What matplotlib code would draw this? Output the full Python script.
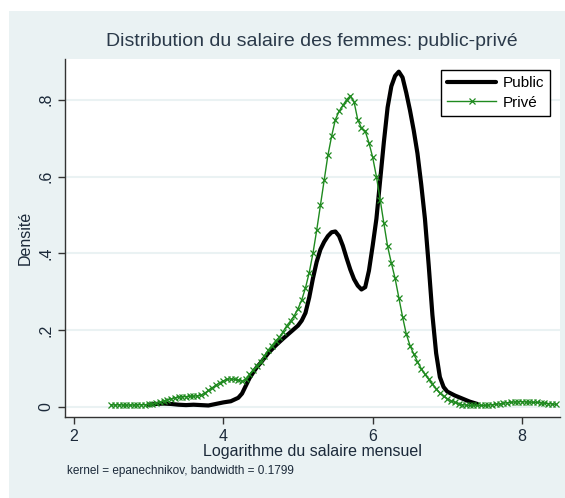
import matplotlib
matplotlib.use("Agg")
import matplotlib.pyplot as plt
import numpy as np
from matplotlib.patches import Rectangle

plt.rcParams['font.family'] = ['Liberation Sans', 'DejaVu Sans']

# Public (black) density
public_x = [3.0, 3.1, 3.2, 3.3, 3.4, 3.5, 3.6, 3.7, 3.8, 3.9, 4.0, 4.1, 4.2, 4.25,
            4.3, 4.35, 4.4, 4.45, 4.5, 4.6, 4.7, 4.8, 4.9, 5.0, 5.05, 5.1, 5.15,
            5.2, 5.25, 5.3, 5.35, 5.4, 5.45, 5.5, 5.55, 5.6, 5.65, 5.7, 5.75,
            5.8, 5.85, 5.9, 5.95, 6.0, 6.05, 6.1, 6.15, 6.2, 6.25, 6.3, 6.35,
            6.4, 6.45, 6.5, 6.55, 6.6, 6.65, 6.7, 6.75, 6.8, 6.85, 6.9, 6.95,
            7.0, 7.1, 7.2, 7.3, 7.4]
public_y = [0.006, 0.008, 0.009, 0.008, 0.006, 0.005, 0.006, 0.005, 0.004, 0.008,
            0.012, 0.015, 0.024, 0.035, 0.055, 0.075, 0.090, 0.104, 0.115, 0.140,
            0.160, 0.178, 0.195, 0.212, 0.225, 0.245, 0.285, 0.335, 0.378, 0.410,
            0.430, 0.445, 0.455, 0.457, 0.445, 0.420, 0.388, 0.358, 0.333, 0.316,
            0.306, 0.312, 0.355, 0.420, 0.490, 0.590, 0.690, 0.780, 0.835, 0.862,
            0.873, 0.858, 0.818, 0.772, 0.720, 0.660, 0.580, 0.490, 0.370, 0.240,
            0.140, 0.078, 0.052, 0.040, 0.030, 0.022, 0.014, 0.008]

# Privé (green) density
prive_x = [2.50, 2.55, 2.60, 2.65, 2.70, 2.75, 2.80, 2.85, 2.90, 2.95,
           3.00, 3.05, 3.10, 3.15, 3.20, 3.25, 3.30, 3.35, 3.40, 3.45,
           3.50, 3.55, 3.60, 3.65, 3.70, 3.75, 3.80, 3.85, 3.90, 3.95,
           4.00, 4.05, 4.10, 4.15, 4.20, 4.25, 4.30, 4.35, 4.40, 4.45,
           4.50, 4.55, 4.60, 4.65, 4.70, 4.75, 4.80, 4.85, 4.90, 4.95,
           5.00, 5.05, 5.10, 5.15, 5.20, 5.25, 5.30, 5.35, 5.40, 5.45,
           5.50, 5.55, 5.60, 5.65, 5.70, 5.75, 5.80, 5.85, 5.90, 5.95,
           6.00, 6.05, 6.10, 6.15, 6.20, 6.25, 6.30, 6.35, 6.40, 6.45,
           6.50, 6.55, 6.60, 6.65, 6.70, 6.75, 6.80, 6.85, 6.90, 6.95,
           7.00, 7.05, 7.10, 7.15, 7.20, 7.25, 7.30, 7.35, 7.40, 7.45,
           7.50, 7.55, 7.60, 7.65, 7.70, 7.75, 7.80, 7.85, 7.90, 7.95,
           8.00, 8.05, 8.10, 8.15, 8.20, 8.25, 8.30, 8.35, 8.40, 8.45]
prive_y = [0.006, 0.005, 0.006, 0.005, 0.005, 0.005, 0.005, 0.006, 0.006, 0.006,
           0.007, 0.008, 0.010, 0.013, 0.016, 0.019, 0.021, 0.024, 0.026, 0.027,
           0.027, 0.028, 0.028, 0.029, 0.031, 0.036, 0.043, 0.050, 0.057, 0.063,
           0.068, 0.072, 0.073, 0.072, 0.070, 0.067, 0.072, 0.085, 0.097, 0.108,
           0.118, 0.133, 0.148, 0.160, 0.172, 0.182, 0.196, 0.212, 0.224, 0.238,
           0.256, 0.279, 0.310, 0.350, 0.400, 0.460, 0.525, 0.590, 0.655, 0.705,
           0.748, 0.770, 0.785, 0.800, 0.810, 0.795, 0.748, 0.726, 0.718, 0.688,
           0.650, 0.600, 0.540, 0.478, 0.418, 0.375, 0.335, 0.285, 0.235, 0.190,
           0.160, 0.138, 0.118, 0.100, 0.085, 0.072, 0.060, 0.048, 0.036, 0.028,
           0.022, 0.016, 0.012, 0.009, 0.006, 0.005, 0.004, 0.004, 0.004, 0.004,
           0.004, 0.005, 0.006, 0.007, 0.008, 0.010, 0.011, 0.012, 0.013, 0.014,
           0.014, 0.013, 0.013, 0.012, 0.012, 0.011, 0.010, 0.009, 0.008, 0.007]

x_ticks = [2, 4, 6, 8]
y_ticks = [0, 0.2, 0.4, 0.6, 0.8]
y_tick_labels = ['0', '.2', '.4', '.6', '.8']

panel_color = '#EAF2F3'
text_color = '#1c2a3a'
green = '#1f8a1f'

fig = plt.figure(figsize=(5.65, 4.98), dpi=100)
fig.patch.set_facecolor('white')
# light background panel (Stata s2color style)
bg = Rectangle((9 / 565, 0), 1 - 9 / 565, 1 - 11 / 498,
               transform=fig.transFigure, facecolor=panel_color,
               edgecolor='none', zorder=-10)
fig.patches.append(bg)

ax = fig.add_axes([65 / 565, 1 - 417 / 498, 495 / 565, 358 / 498])
ax.set_zorder(5)
ax.set_facecolor('white')

# grid lines
for yt in y_ticks:
    ax.axhline(yt, color=panel_color, linewidth=1.5, zorder=1)

ax.plot(public_x, public_y, color='black', linewidth=3, zorder=3, label='Public',
        solid_joinstyle='round', solid_capstyle='round')
ax.plot(prive_x, prive_y, color=green, linewidth=1, marker='x', markersize=4.5,
        markeredgewidth=0.9, zorder=4, label='Privé')

ax.set_xlim(1.879, 8.509)
ax.set_ylim(-0.026, 0.906)
ax.set_xticks(x_ticks)
ax.set_yticks(y_ticks)
ax.set_yticklabels(y_tick_labels, rotation=90, va='center')

for side in ['top', 'right']:
    ax.spines[side].set_visible(False)
for side in ['left', 'bottom']:
    ax.spines[side].set_color('#333333')
    ax.spines[side].set_linewidth(1)
ax.tick_params(direction='out', length=5, width=1, color='#333333',
               labelsize=11.5, labelcolor=text_color)

ax.set_xlabel('Logarithme du salaire mensuel', fontsize=11.5, color=text_color,
              labelpad=0)
ax.set_ylabel('Densité', fontsize=11.5, color=text_color, labelpad=4)
fig.text(312 / 565, 1 - 42 / 498, 'Distribution du salaire des femmes: public-privé',
         fontsize=14, color='#2b3a4a', ha='center', va='center')
fig.text(67 / 565, 1 - 471 / 498, 'kernel = epanechnikov, bandwidth = 0.1799',
         fontsize=8.5, color=text_color, ha='left', va='center')

leg = ax.legend(loc='upper right', bbox_to_anchor=(0.995, 0.99), fontsize=11,
                frameon=True, fancybox=False, handlelength=3.2, borderpad=0.4,
                labelspacing=0.35, handletextpad=0.4, markerscale=1.0,
                framealpha=1)
leg.get_frame().set_edgecolor('black')
leg.get_frame().set_linewidth(1)
# single marker in the middle of the legend line
leg.legend_handles[1].set_markevery([1])

plt.savefig('out.png', dpi=100, facecolor=fig.get_facecolor())
